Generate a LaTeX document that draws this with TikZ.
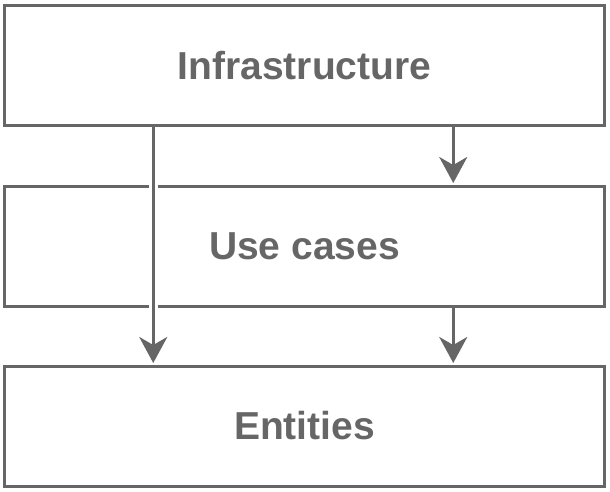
\documentclass[tikz,border=0pt]{standalone}
\usepackage{fontspec}
\setmainfont{Liberation Sans}
\usetikzlibrary{arrows.meta}
\definecolor{linegray}{RGB}{102,102,102}
\tikzset{
  layerbox/.style={draw=linegray, line width=3pt, rectangle, minimum width=599.5pt,
    minimum height=120pt, inner sep=0pt, text=linegray,
    font=\fontsize{39}{42}\selectfont\bfseries},
  dep/.style={draw=linegray, line width=3pt,
    -{Stealth[length=26pt, width=28pt, inset=8pt]}},
  halo/.style={draw=white, line width=9pt}
}
\begin{document}
\begin{tikzpicture}[x=1pt, y=-1pt]
\useasboundingbox (0,0) rectangle (610,492);
\node[layerbox] (infra) at (304.5,66) {Infrastructure};
\node[layerbox] (usecases) at (304.5,246) {Use cases};
\node[layerbox] (entities) at (304.5,426) {Entities};
% anchor points for the connectors
\coordinate (iL) at ([xshift=150pt]infra.south west);
\coordinate (iR) at ([xshift=450pt]infra.south west);
\coordinate (uR) at ([xshift=450pt]usecases.south west);
\coordinate (uTR) at ([xshift=450pt,yshift=1.5pt]usecases.north west);
\coordinate (eL) at ([xshift=150pt,yshift=1.5pt]entities.north west);
\coordinate (eR) at ([xshift=450pt,yshift=1.5pt]entities.north west);
\coordinate (hA) at ([xshift=150pt,yshift=6pt]usecases.north west);
\coordinate (hB) at ([xshift=150pt,yshift=-6pt]usecases.south west);
\draw[halo] (hA) -- (hB);
\draw[dep] (iL) -- (eL);
\draw[dep] (iR) -- (uTR);
\draw[dep] (uR) -- (eR);
\end{tikzpicture}
\end{document}
